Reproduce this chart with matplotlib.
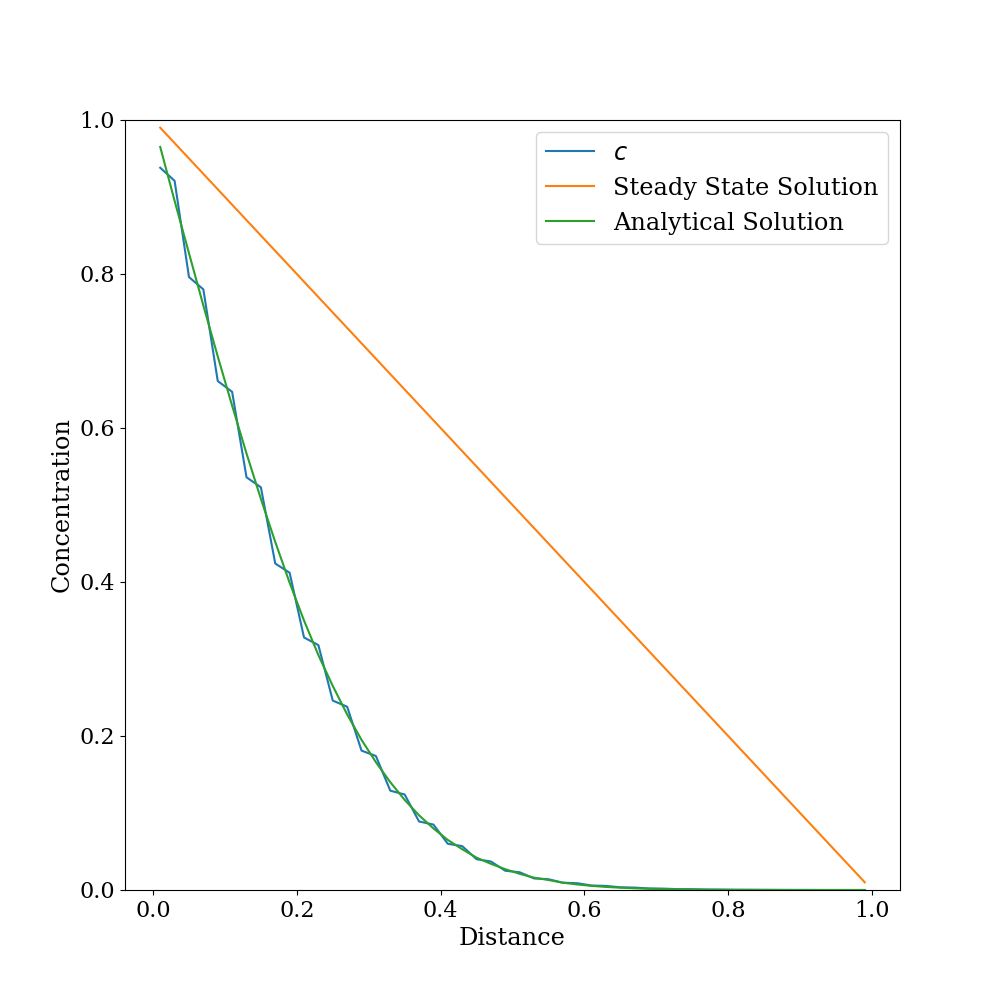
"""Diffusion profile: numerical c vs steady state and analytical solution."""

import matplotlib
matplotlib.use("Agg")
import matplotlib.pyplot as plt

plt.rcParams.update({
    "font.family": "serif",
    "font.serif": ["DejaVu Serif"],
    "font.size": 16,
})

# cell centres
distance = [0.01, 0.03, 0.05, 0.07, 0.09, 0.11, 0.13, 0.15, 0.17, 0.19,
            0.21, 0.23, 0.25, 0.27, 0.29, 0.31, 0.33, 0.35, 0.37, 0.39,
            0.41, 0.43, 0.45, 0.47, 0.49, 0.51, 0.53, 0.55, 0.57, 0.59,
            0.61, 0.63, 0.65, 0.67, 0.69, 0.71, 0.73, 0.75, 0.77, 0.79,
            0.81, 0.83, 0.85, 0.87, 0.89, 0.91, 0.93, 0.95, 0.97, 0.99]

# numerical concentration
c_numeric = [0.938, 0.921, 0.796, 0.780, 0.661, 0.647, 0.536, 0.523, 0.424, 0.412,
             0.328, 0.318, 0.246, 0.238, 0.181, 0.174, 0.129, 0.124, 0.089, 0.085,
             0.060, 0.057, 0.040, 0.037, 0.025, 0.023, 0.015, 0.014, 0.0095, 0.0088,
             0.0058, 0.0053, 0.0035, 0.0031, 0.0020, 0.0018, 0.0011, 0.0010, 0.0006, 0.0005,
             0.0003, 0.0003, 0.0002, 0.0001, 0.0001, 0.0001, 0.0, 0.0, 0.0, 0.0]

steady_state = [0.99, 0.97, 0.95, 0.93, 0.91, 0.89, 0.87, 0.85, 0.83, 0.81,
                0.79, 0.77, 0.75, 0.73, 0.71, 0.69, 0.67, 0.65, 0.63, 0.61,
                0.59, 0.57, 0.55, 0.53, 0.51, 0.49, 0.47, 0.45, 0.43, 0.41,
                0.39, 0.37, 0.35, 0.33, 0.31, 0.29, 0.27, 0.25, 0.23, 0.21,
                0.19, 0.17, 0.15, 0.13, 0.11, 0.09, 0.07, 0.05, 0.03, 0.01]

analytical = [0.965, 0.895, 0.827, 0.759, 0.693, 0.629, 0.567, 0.508, 0.452, 0.399,
              0.350, 0.305, 0.265, 0.228, 0.195, 0.166, 0.140, 0.117, 0.097, 0.080,
              0.065, 0.053, 0.042, 0.034, 0.027, 0.021, 0.016, 0.013, 0.0095, 0.0072,
              0.0054, 0.0040, 0.0030, 0.0022, 0.0016, 0.0011, 0.0008, 0.0006, 0.0004, 0.0003,
              0.0002, 0.0001, 0.0001, 0.0001, 0.0, 0.0, 0.0, 0.0, 0.0, 0.0]

fig, ax = plt.subplots(figsize=(10, 10), dpi=100)

ax.plot(distance, c_numeric, label="$c$")
ax.plot(distance, steady_state, label="Steady State Solution")
ax.plot(distance, analytical, label="Analytical Solution")

ax.set_ylim(0, 1)
ax.set_xlabel("Distance", fontsize=17.3)
ax.set_ylabel("Concentration", fontsize=17.3)
ax.legend(loc="upper right", fontsize=17.3)

fig.savefig("out.png", dpi=100)
